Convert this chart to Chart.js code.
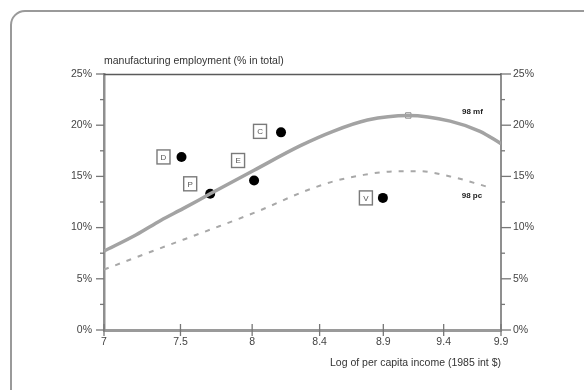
<!DOCTYPE html>
<html>
<head>
<meta charset="utf-8">
<script src="https://cdn.jsdelivr.net/npm/chart.js@4/dist/chart.umd.min.js"></script>
<style>
  html, body { margin: 0; padding: 0; background: #fff; }
  #wrap { width: 584px; height: 390px; position: relative; }
</style>
</head>
<body>
<div id="wrap"><canvas id="c" width="584" height="390"></canvas></div>
<script>
// Countries (scatter points)
const countries     = ['D', 'P', 'E', 'C', 'V'];
const countryIncome = [7.49, 7.68, 7.98, 8.17, 8.93];
const countryShare  = [16.9, 13.3, 14.6, 19.3, 12.9];

// Fitted curve "98 mf" (solid)
const mfIncome = [7.0, 7.2, 7.355, 7.5, 7.68, 7.98, 8.31, 8.55, 8.81, 9.13, 9.47, 9.72, 9.9];
const mfShare  = [7.7, 9.3, 10.7, 11.85, 13.3, 15.6, 18.0, 19.4, 20.5, 20.95, 20.4, 19.4, 18.2];

// Fitted curve "98 pc" (dashed)
const pcIncome = [7.0, 7.355, 7.68, 8.025, 8.33, 8.55, 8.78, 9.04, 9.22, 9.47, 9.72, 9.82];
const pcShare  = [5.9, 8.0, 9.8, 11.7, 13.5, 14.5, 15.15, 15.5, 15.5, 15.0, 14.2, 13.85];

// Turning point of the "98 mf" curve
const peakIncome = [9.13];
const peakShare  = [20.95];

// Axis ticks
const xTickLabels = ['7', '7.5', '8', '8.4', '8.9', '9.4', '9.9'];
const xMin = 7, xMax = 9.9;
const xTickValues = xTickLabels.map((_, i) => xMin + i * (xMax - xMin) / (xTickLabels.length - 1));
const yMin = 0, yMax = 25, yMajorStep = 5, yMinorStep = 2.5;

const curveLabels = ['98 mf', '98 pc'];
const yTitle = 'manufacturing employment (% in total)';
const xTitle = 'Log of per capita income (1985 int $)';

// label box offsets (px) relative to each country's dot
const boxOffsets = [[-18, 0], [-20, -10], [-16, -20], [-21, -1], [-17, 0]];
// curve label offsets (px) relative to each curve's last point
const curveLabelOffsets = [[-39, -32], [-30, 8]];

const FONT = '"Liberation Sans", Arial, sans-serif';

const toPts = (xs, ys) => xs.map((x, i) => ({ x: x, y: ys[i] }));

const decor = {
  id: 'decor',
  beforeDraw(chart) {
    const ctx = chart.ctx;
    // outer rounded frame
    ctx.save();
    ctx.strokeStyle = '#9a9a9a';
    ctx.lineWidth = 2;
    ctx.beginPath();
    ctx.moveTo(11, 390);
    ctx.lineTo(11, 25);
    ctx.arcTo(11, 11, 25, 11, 14);
    ctx.lineTo(584, 11);
    ctx.stroke();
    ctx.restore();
  },
  afterDraw(chart) {
    const ctx = chart.ctx;
    const a = chart.chartArea;
    const xs = chart.scales.x, ys = chart.scales.y, ys2 = chart.scales.y2;
    ctx.save();
    // top frame line of plot box
    ctx.strokeStyle = '#5a5a5a';
    ctx.lineWidth = 1.3;
    ctx.beginPath();
    ctx.moveTo(a.left, a.top + 0.5);
    ctx.lineTo(a.right, a.top + 0.5);
    ctx.stroke();

    // tick marks
    ctx.strokeStyle = '#777';
    ctx.lineWidth = 1.3;
    ys.ticks.forEach(t => {
      const py = ys.getPixelForValue(t.value);
      const major = Math.abs(t.value % yMajorStep) < 1e-9;
      ctx.beginPath();
      ctx.moveTo(a.left - (major ? 8 : 4), py);
      ctx.lineTo(a.left, py);
      ctx.stroke();
    });
    ys2.ticks.forEach(t => {
      const py = ys2.getPixelForValue(t.value);
      const major = Math.abs(t.value % yMajorStep) < 1e-9;
      ctx.beginPath();
      ctx.moveTo(a.right, py);
      ctx.lineTo(a.right + (major ? 10 : 4), py);
      ctx.stroke();
    });
    xs.ticks.forEach(t => {
      const px = xs.getPixelForValue(t.value);
      ctx.beginPath();
      ctx.moveTo(px, a.bottom - 6);
      ctx.lineTo(px, a.bottom + 6);
      ctx.stroke();
    });

    // y-axis title above the plot
    ctx.fillStyle = '#333';
    ctx.font = '10.5px ' + FONT;
    ctx.textAlign = 'left';
    ctx.textBaseline = 'middle';
    ctx.fillText(yTitle, a.left, a.top - 13);

    // curve labels
    ctx.font = 'bold 8px ' + FONT;
    ctx.fillStyle = '#222';
    [[mfIncome, mfShare], [pcIncome, pcShare]].forEach((c, i) => {
      const n = c[0].length - 1;
      const px = xs.getPixelForValue(c[0][n]);
      const py = ys.getPixelForValue(c[1][n]);
      ctx.fillText(curveLabels[i], px + curveLabelOffsets[i][0], py + curveLabelOffsets[i][1]);
    });

    // country label boxes
    ctx.font = '8px ' + FONT;
    ctx.textAlign = 'center';
    countries.forEach((name, i) => {
      const px = xs.getPixelForValue(countryIncome[i]) + boxOffsets[i][0];
      const py = ys.getPixelForValue(countryShare[i]) + boxOffsets[i][1];
      ctx.fillStyle = '#fff';
      ctx.fillRect(px - 6.5, py - 7, 13, 14);
      ctx.strokeStyle = '#7a7a7a';
      ctx.lineWidth = 1.4;
      ctx.strokeRect(px - 6.5, py - 7, 13, 14);
      ctx.fillStyle = '#555';
      ctx.fillText(name, px, py + 0.5);
    });
    ctx.restore();
  }
};

new Chart(document.getElementById('c'), {
  type: 'scatter',
  data: {
    datasets: [
      {
        type: 'line',
        label: curveLabels[1],
        data: toPts(pcIncome, pcShare),
        borderColor: '#a8a8a8',
        borderWidth: 2,
        borderDash: [5, 7],
        pointRadius: 0,
        tension: 0.4,
        cubicInterpolationMode: 'monotone',
        fill: false
      },
      {
        type: 'line',
        label: curveLabels[0],
        data: toPts(mfIncome, mfShare),
        borderColor: '#a3a3a3',
        borderWidth: 3.5,
        pointRadius: 0,
        tension: 0.4,
        cubicInterpolationMode: 'monotone',
        fill: false
      },
      {
        label: 'peak',
        data: toPts(peakIncome, peakShare),
        pointStyle: 'rect',
        pointRadius: 3.8,
        backgroundColor: '#fff',
        borderColor: '#888',
        borderWidth: 1
      },
      {
        label: 'countries',
        data: toPts(countryIncome, countryShare),
        pointRadius: 5,
        backgroundColor: '#000',
        borderColor: '#000',
        borderWidth: 0
      }
    ]
  },
  options: {
    responsive: false,
    animation: false,
    devicePixelRatio: 1,
    layout: { padding: { top: 74, left: 0, right: 0, bottom: 0 } },
    plugins: { legend: { display: false }, tooltip: { enabled: false }, title: { display: false } },
    scales: {
      x: {
        type: 'logarithmic',
        position: 'bottom',
        min: xMin,
        max: xMax,
        afterBuildTicks: s => { s.ticks = xTickValues.map(v => ({ value: v })); },
        afterFit: s => { s.height = 60; },
        ticks: {
          autoSkip: false,
          maxRotation: 0,
          padding: 6,
          color: '#444',
          font: { family: FONT, size: 10.5 },
          callback: (v, i) => xTickLabels[i]
        },
        grid: { drawOnChartArea: false, drawTicks: false },
        border: { color: '#9a9a9a', width: 3 },
        title: {
          display: true,
          text: xTitle,
          align: 'end',
          color: '#333',
          font: { family: FONT, size: 10.5 },
          padding: { top: 0, bottom: 21 }
        }
      },
      y: {
        position: 'left',
        min: yMin,
        max: yMax,
        afterFit: s => { s.width = 104; },
        ticks: {
          stepSize: yMinorStep,
          padding: 12,
          color: '#444',
          font: { family: FONT, size: 10.5 },
          callback: v => (v % yMajorStep === 0 ? v + '%' : '')
        },
        grid: { drawOnChartArea: false, drawTicks: false },
        border: { color: '#8f8f8f', width: 2.5 }
      },
      y2: {
        position: 'right',
        min: yMin,
        max: yMax,
        afterFit: s => { s.width = 83; },
        ticks: {
          stepSize: yMinorStep,
          padding: 12,
          color: '#444',
          font: { family: FONT, size: 10.5 },
          callback: v => (v % yMajorStep === 0 ? v + '%' : '')
        },
        grid: { drawOnChartArea: false, drawTicks: false },
        border: { color: '#8f8f8f', width: 2 }
      }
    }
  },
  plugins: [decor]
});
</script>
</body>
</html>
